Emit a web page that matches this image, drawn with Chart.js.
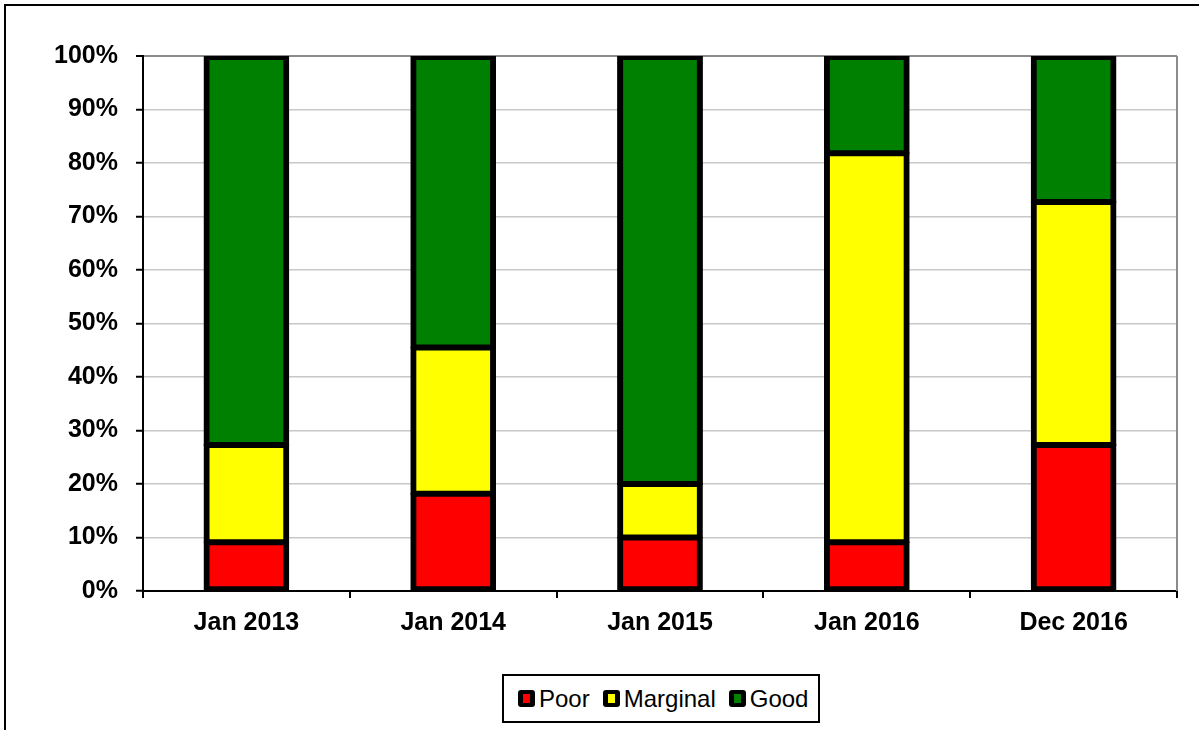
<!DOCTYPE html>
<html>
<head>
<meta charset="utf-8">
<script src="https://cdn.jsdelivr.net/npm/chart.js@4.4.0/dist/chart.umd.min.js"></script>
<style>
  body { margin: 0; background: #fff; overflow: hidden; }
  #frame { position: absolute; left: 4px; top: 4px; width: 1300px; height: 900px; border: 2px solid #000; }
  #chart { position: absolute; left: 0; top: 0; }
  #legend {
    position: absolute; left: 502px; top: 674px; width: 318px; height: 49px;
    box-sizing: border-box; border: 2px solid #000; background: #fff;
    display: flex; align-items: center; padding-left: 14px;
    font-family: "Liberation Sans", Arial, sans-serif; font-size: 24px; color: #000;
  }
  .item { display: flex; align-items: center; margin-right: 13px; }
  .mark { width: 17px; height: 17px; background: #000; border-radius: 3px; display: flex; align-items: center; justify-content: center; margin-right: 4px; }
  .mark span { width: 7px; height: 9px; display: block; }
</style>
</head>
<body>
<div id="frame"></div>
<canvas id="chart" width="1199" height="730"></canvas>
<div id="legend"></div>
<script>
// data (share of sites, %)
const categories = ['Jan 2013', 'Jan 2014', 'Jan 2015', 'Jan 2016', 'Dec 2016'];
const poor = [9.1, 18.2, 10, 9.1, 27.3];
const marginal = [18.2, 27.3, 10, 72.7, 45.4];
const good = [72.7, 54.5, 80, 18.2, 27.3];
const seriesNames = ['Poor', 'Marginal', 'Good'];
const seriesColors = ['#ff0000', '#ffff00', '#008000'];

const boldFont = { family: '"Liberation Sans", Arial, sans-serif', size: 25, weight: 'bold' };

// linea gris a la derecha del area del grafico
const plotBorder = {
  id: 'plotBorder',
  beforeDatasetsDraw(chart) {
    const { ctx, chartArea: a } = chart;
    ctx.save();
    ctx.strokeStyle = '#8c8c8c';
    ctx.lineWidth = 2;
    ctx.beginPath();
    ctx.moveTo(a.right, a.top);
    ctx.lineTo(a.right, a.bottom);
    ctx.stroke();
    ctx.restore();
  }
};

function makeSet(i, data, bw) {
  return {
    label: seriesNames[i],
    data: data,
    backgroundColor: seriesColors[i],
    borderColor: '#000',
    borderWidth: bw,
    borderSkipped: false,
    inflateAmount: 1, // evita la linea blanca entre segmentos
    barPercentage: 0.405,
    categoryPercentage: 1
  };
}

new Chart(document.getElementById('chart'), {
  type: 'bar',
  data: {
    labels: categories,
    datasets: [
      makeSet(0, poor, { top: 4, bottom: 5, left: 6, right: 6 }),
      makeSet(1, marginal, { top: 4, bottom: 4, left: 6, right: 6 }),
      makeSet(2, good, { top: 5, bottom: 4, left: 6, right: 6 })
    ]
  },
  options: {
    responsive: false,
    animation: false,
    devicePixelRatio: 1,
    layout: { padding: { left: 0, top: 56, right: 22, bottom: 0 } },
    plugins: { legend: { display: false }, tooltip: { enabled: false } },
    scales: {
      x: {
        stacked: true,
        offset: true,
        grid: { offset: true, drawOnChartArea: false, tickLength: 7, tickColor: '#000', tickWidth: 2, lineWidth: 2 },
        border: { color: '#000', width: 2 },
        ticks: { color: '#000', font: boldFont, padding: 10, maxRotation: 0 },
        afterFit: s => { s.height = 139; }
      },
      y: {
        stacked: true,
        min: 0,
        max: 100,
        ticks: { stepSize: 10, color: '#000', font: boldFont, padding: 18, callback: v => v + '%' },
        grid: {
          color: c => (c.tick && c.tick.value === 100) ? '#8c8c8c' : '#c8c8c8',
          lineWidth: c => (c.tick && c.tick.value === 100) ? 2 : 1.5,
          tickColor: '#000', tickLength: 7, tickWidth: 2
        },
        border: { color: '#000', width: 2 },
        afterFit: s => { s.width = 143; }
      }
    }
  },
  plugins: [plotBorder]
});

// leyenda en html con recuadro
const legend = document.getElementById('legend');
seriesNames.forEach((name, i) => {
  const item = document.createElement('div');
  item.className = 'item';
  item.innerHTML = '<span class="mark"><span style="background:' + seriesColors[i] + '"></span></span>' + name;
  legend.appendChild(item);
});
</script>
</body>
</html>
